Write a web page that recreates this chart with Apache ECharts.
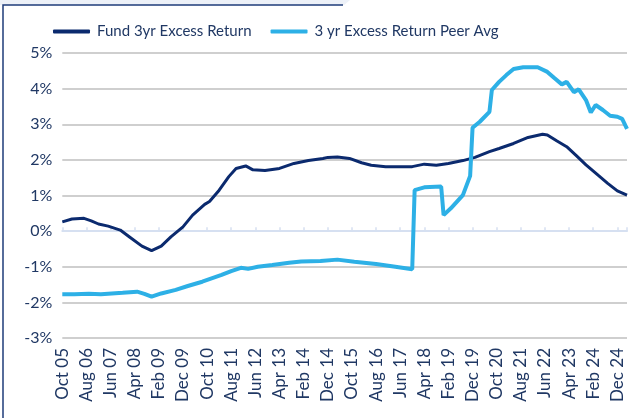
<!DOCTYPE html>
<html><head><meta charset="utf-8">
<script src="https://cdn.jsdelivr.net/npm/echarts@6/dist/echarts.min.js"></script>
<style>html,body{margin:0;padding:0;background:#fff}#c{width:644px;height:418px}</style>
</head><body><div id="c"></div>
<script>
// Month index 0 = Oct 2005, 10-month label spacing
const tickLabels = ['Oct 05','Aug 06','Jun 07','Apr 08','Feb 09','Dec 09','Oct 10','Aug 11','Jun 12','Apr 13','Feb 14','Dec 14','Oct 15','Aug 16','Jun 17','Apr 18','Feb 19','Dec 19','Oct 20','Aug 21','Jun 22','Apr 23','Feb 24','Dec 24'];
const fundName = 'Fund 3yr Excess Return';
const peerName = '3 yr Excess Return Peer Avg';
const fundMonths = [0,4,9,12,15,19,24,28,33,37,41,45,50,54,59,61,65,69,72,76,79,84,90,96,102,108,110,114,119,124,128,134,145,150,155,160,166,171,177,181,187,193,199,201,205,209,213,217,222,226,230,234];
const fundValues = [0.26,0.34,0.36,0.29,0.20,0.14,0.03,-0.17,-0.42,-0.55,-0.42,-0.16,0.12,0.45,0.75,0.83,1.15,1.53,1.76,1.83,1.72,1.70,1.76,1.90,1.98,2.04,2.07,2.08,2.04,1.92,1.85,1.81,1.81,1.88,1.85,1.90,1.98,2.07,2.23,2.32,2.46,2.63,2.72,2.70,2.53,2.37,2.12,1.86,1.57,1.34,1.13,1.01];
const peerMonths = [0,5,11,16,25,31,34,37,41,47,52,58,66,70,74,77,81,87,94,99,107,114,121,130,138,145,146,150,157,158,161,166,169,170,173,177,178,181,184,187,191,197,201,204,207,209,212,214,217,219,221,224,227,230,232,234];
const peerValues = [-1.77,-1.77,-1.76,-1.77,-1.73,-1.70,-1.76,-1.84,-1.75,-1.65,-1.54,-1.42,-1.23,-1.12,-1.03,-1.06,-1.00,-0.95,-0.89,-0.85,-0.84,-0.80,-0.86,-0.92,-1.00,-1.07,1.15,1.23,1.25,0.45,0.64,1.01,1.55,2.90,3.07,3.35,3.96,4.19,4.38,4.55,4.60,4.60,4.47,4.29,4.12,4.19,3.90,3.98,3.68,3.33,3.54,3.40,3.24,3.21,3.15,2.87];

const fundData = fundMonths.map((m,i)=>[m,fundValues[i]]);
const peerData = peerMonths.map((m,i)=>[m,peerValues[i]]);
const txt = '#203864';
const font = 'Lato';
const chart = echarts.init(document.getElementById('c'), null, {renderer:'canvas'});
chart.setOption({
  animation:false,
  backgroundColor:'#ffffff',
  textStyle:{fontFamily:font},
  graphic:[
    {type:'polygon', shape:{points:[[0,0],[350,0],[344,5],[0,5]]}, style:{fill:'#edf1f8'}, silent:true},
    {type:'polyline', shape:{points:[[3,418],[3,5],[343,5]]}, style:{stroke:'#1f3c7a', lineWidth:1.5, fill:null}, silent:true}
  ],
  legend:{
    left:53, top:24, padding:0, itemWidth:37, itemHeight:4, itemGap:19, icon:'roundRect',
    textStyle:{color:txt, fontSize:15, fontFamily:font, padding:[0,0,0,2]},
    data:[fundName, peerName]
  },
  grid:{left:62.3, right:17, top:53, bottom:80, containLabel:false},
  xAxis:[
    {type:'value', min:0, max:234, interval:10, position:'bottom',
     axisLine:{show:false, onZero:false}, axisTick:{show:false}, splitLine:{show:false},
     axisLabel:{rotate:90, margin:10, fontSize:17, color:txt, fontFamily:font, showMaxLabel:false,
       formatter:(v)=> (v%10===0 && tickLabels[v/10]) ? tickLabels[v/10] : ''}},
    {type:'value', min:0, max:234, interval:10, position:'top',
     axisLine:{show:true, onZero:true, lineStyle:{color:'#d6e0f1', width:2}},
     axisTick:{show:true, length:4, lineStyle:{color:'#d6e0f1', width:1.5}},
     axisLabel:{show:false}, splitLine:{show:false}}
  ],
  yAxis:{type:'value', min:-3, max:5, interval:1,
    axisLine:{show:false}, axisTick:{show:false},
    axisLabel:{formatter:'{value}%', fontSize:16, color:txt, margin:10, fontFamily:font},
    splitLine:{lineStyle:{color:['#bfbfbf','#bfbfbf','#bfbfbf','rgba(0,0,0,0)','#bfbfbf','#bfbfbf','#bfbfbf','#bfbfbf','#bfbfbf'], width:1.5}}},
  series:[
    {name:fundName, type:'line', data:fundData, symbol:'none', xAxisIndex:0,
     lineStyle:{color:'#0b2a6e', width:3}, itemStyle:{color:'#0b2a6e'}, z:3},
    {name:peerName, type:'line', data:peerData, symbol:'none', xAxisIndex:0,
     lineStyle:{color:'#2db0e6', width:4}, itemStyle:{color:'#2db0e6'}, z:4}
  ]
});
</script></body></html>
